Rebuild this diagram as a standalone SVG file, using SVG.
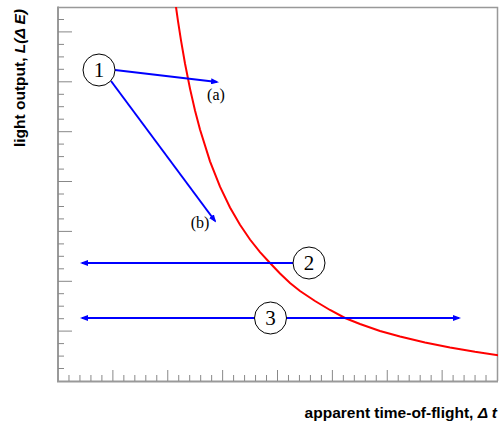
<svg xmlns="http://www.w3.org/2000/svg" width="499" height="426" viewBox="0 0 499 426">
<style>
.frame{fill:none;stroke:#999;stroke-width:1.5}
.axis{stroke:#999;stroke-width:2;fill:none}
.tick{stroke:#888;stroke-width:1;fill:none}
.curve{fill:none;stroke:#ff0000;stroke-width:2}
.arr{stroke:#0000ff;stroke-width:2;fill:none;marker-end:url(#ah)}
.node circle{fill:#fff;stroke:#000;stroke-width:1}
.num{font-family:"Liberation Serif",serif;font-size:21px;text-anchor:middle;fill:#000}
.lab{font-family:"Liberation Serif",serif;font-size:16px;text-anchor:middle;fill:#000}
.axl{font-family:"Liberation Sans",Arial,sans-serif;font-size:15.5px;font-weight:bold;fill:#000}
</style>
<defs>
<marker id="ah" markerUnits="userSpaceOnUse" markerWidth="8" markerHeight="6" refX="6" refY="3" orient="auto">
<path d="M0,0 L8,3 L0,6 z" fill="#0000ff"/>
</marker>
<clipPath id="plot"><rect x="58" y="7" width="440" height="374"/></clipPath>
</defs>
<rect width="499" height="426" fill="#fff"/>
<g id="frame">
<path class="frame" d="M58,7.5 H497.5 V381"/>
<path class="axis" d="M58,6.5 V381.5 H498"/>
<path class="tick" d="M68.98,381V375M79.95,381V375M90.93,381V375M101.9,381V375M112.88,381V370M123.85,381V375M134.83,381V375M145.8,381V375M156.78,381V375M167.75,381V370M178.73,381V375M189.7,381V375M200.68,381V375M211.65,381V375M222.63,381V370M233.6,381V375M244.58,381V375M255.55,381V375M266.53,381V375M277.5,381V370M288.48,381V375M299.45,381V375M310.43,381V375M321.4,381V375M332.38,381V370M343.35,381V375M354.33,381V375M365.3,381V375M376.28,381V375M387.25,381V370M398.23,381V375M409.2,381V375M420.18,381V375M431.15,381V375M442.13,381V370M453.1,381V375M464.08,381V375M475.05,381V375M486.03,381V375"/>
<path class="tick" d="M58,368.5H64M58,356.1H64M58,343.6H64M58,331.1H72M58,318.7H64M58,306.2H64M58,293.7H64M58,281.3H72M58,268.8H64M58,256.3H64M58,243.9H64M58,231.4H72M58,218.9H64M58,206.5H64M58,194H64M58,181.5H72M58,169.1H64M58,156.6H64M58,144.1H64M58,131.7H72M58,119.2H64M58,106.7H64M58,94.3H64M58,81.8H72M58,69.3H64M58,56.9H64M58,44.4H64M58,31.9H72M58,19.5H64"/>
</g>
<g id="curve" clip-path="url(#plot)">
<path class="curve" d="M175.7,5 L176,7 L178,21.1 L181,40.4 L185,63.5 L190,88.6 L195,110.4 L200,129.5 L210,161.3 L220,186.7 L230,207.5 L240,224.8 L250,239.5 L260,252.1 L270,263 L280,273.5 L290,283 L300,291 L315,301 L330,310 L345,318 L360,324 L380,331 L400,336.5 L425,342.5 L450,347.5 L475,351.8 L499,355.3"/>
</g>
<g id="connectors">
<line class="arr" x1="115" y1="70" x2="217" y2="82"/>
<line class="arr" x1="111" y1="81" x2="215" y2="221"/>
<line class="arr" x1="293" y1="263" x2="82" y2="263"/>
<line class="arr" x1="255" y1="318" x2="82" y2="318"/>
<line class="arr" x1="286" y1="318" x2="459" y2="318"/>
</g>
<g id="node1" class="node"><circle cx="99" cy="70" r="16"/><text class="num" x="99" y="77">1</text></g>
<g id="node2" class="node"><circle cx="309" cy="263" r="16"/><text class="num" x="309" y="270">2</text></g>
<g id="node3" class="node"><circle cx="270.5" cy="318" r="16"/><text class="num" x="270.5" y="325">3</text></g>
<g id="label-a"><text class="lab" x="216" y="100">(a)</text></g>
<g id="label-b"><text class="lab" x="200" y="228">(b)</text></g>
<g id="ylabel"><text class="axl" transform="translate(25,78) rotate(-90)" text-anchor="middle">light output,  <tspan font-style="italic">L(Δ E)</tspan></text></g>
<g id="xlabel"><text class="axl" x="497" y="418" text-anchor="end">apparent time-of-flight,  <tspan font-style="italic">Δ t</tspan></text></g>
</svg>
